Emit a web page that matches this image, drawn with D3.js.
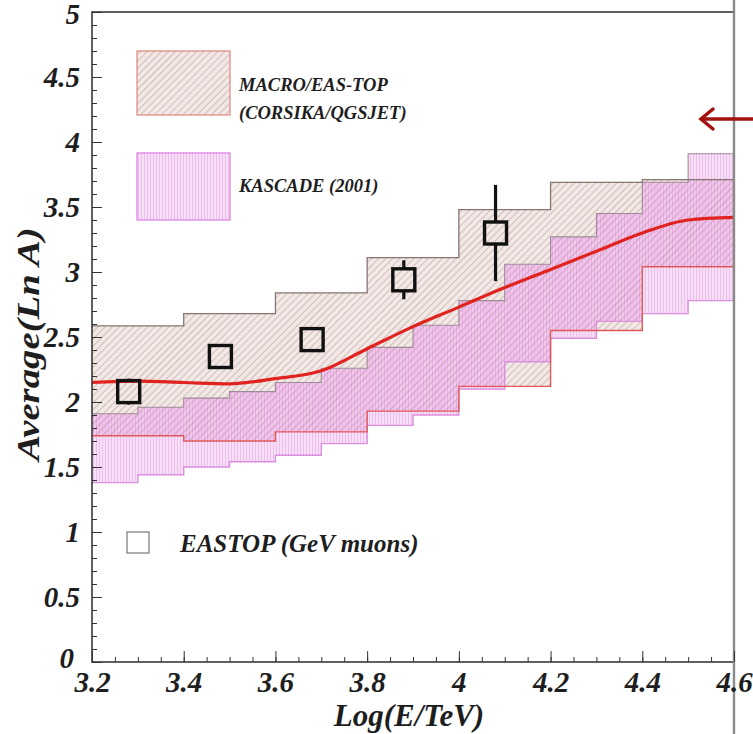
<!DOCTYPE html>
<html><head><meta charset="utf-8">
<script src="https://cdn.jsdelivr.net/npm/d3@7"></script>
<style>
html,body{margin:0;padding:0;background:#fff;}
svg{display:block;}
.lbl{font-family:"Liberation Serif","Times New Roman",serif;font-weight:bold;font-style:italic;fill:#1e1e1e;}
</style></head>
<body>
<script>
// ---------- data ----------
const xTicks = [3.2,3.4,3.6,3.8,4.0,4.2,4.4,4.6];
const xTickLabels = ["3.2","3.4","3.6","3.8","4","4.2","4.4","4.6"];
const yTicks = [0,0.5,1,1.5,2,2.5,3,3.5,4,4.5,5];
const yTickLabels = ["0","0.5","1","1.5","2","2.5","3","3.5","4","4.5","5"];

// MACRO/EAS-TOP band (0.2 wide bins)
const macroEdges = [3.2,3.4,3.6,3.8,4.0,4.2,4.4,4.6];
const macroUpper = [2.585,2.68,2.84,3.11,3.48,3.69,3.71];
const macroLower = [1.74,1.70,1.77,1.93,2.12,2.55,3.04];

// KASCADE (2001) band (0.1 wide bins)
const kascEdges = [3.2,3.3,3.4,3.5,3.6,3.7,3.8,3.9,4.0,4.1,4.2,4.3,4.4,4.5,4.6];
const kascUpper = [1.91,1.96,2.03,2.08,2.15,2.26,2.42,2.59,2.78,3.06,3.27,3.45,3.69,3.91];
const kascLower = [1.38,1.44,1.50,1.54,1.59,1.68,1.82,1.90,2.10,2.31,2.49,2.62,2.68,2.78];

// red model curve
const curveX = [3.2,3.3,3.4,3.5,3.6,3.7,3.8,3.9,4.0,4.1,4.2,4.3,4.4,4.5,4.6];
const curveY = [2.15,2.16,2.15,2.14,2.18,2.24,2.41,2.58,2.73,2.88,3.02,3.16,3.30,3.40,3.42];

// EASTOP (GeV muons) points
const eastopX = [3.28,3.48,3.68,3.88,4.08];
const eastopY = [2.08,2.35,2.48,2.94,3.30];
const eastopErr = [0.10,0.0,0.0,0.15,0.37];

// ---------- setup ----------
const W = 753, H = 734;
const svg = d3.select("body").append("svg").attr("width",W).attr("height",H);
const x = d3.scaleLinear().domain([3.2,4.6]).range([92,734]);
const y = d3.scaleLinear().domain([0,5]).range([662,12]);

const defs = svg.append("defs");
const pd = defs.append("pattern").attr("id","diag").attr("patternUnits","userSpaceOnUse")
  .attr("width",5).attr("height",5).attr("patternTransform","rotate(45)");
pd.append("line").attr("x1",0).attr("y1",0).attr("x2",0).attr("y2",5)
  .attr("stroke","#a8877c").attr("stroke-width",1.2).attr("stroke-opacity",0.75);
const pv = defs.append("pattern").attr("id","vert").attr("patternUnits","userSpaceOnUse")
  .attr("width",3).attr("height",3);
pv.append("rect").attr("width",3).attr("height",3).attr("fill","#f7e0f7");
pv.append("line").attr("x1",0.5).attr("y1",0).attr("x2",0.5).attr("y2",3)
  .attr("stroke","#ebbaeb").attr("stroke-width",0.9);

function stepData(edges, lo, hi){
  return edges.map((e,i)=>({x:e, lo: lo[Math.min(i,lo.length-1)], hi: hi[Math.min(i,hi.length-1)]}));
}
const macro = stepData(macroEdges, macroLower, macroUpper);
const kasc = stepData(kascEdges, kascLower, kascUpper);

const area = d3.area().x(d=>x(d.x)).y0(d=>y(d.lo)).y1(d=>y(d.hi)).curve(d3.curveStepAfter);
const lineHi = d3.line().x(d=>x(d.x)).y(d=>y(d.hi)).curve(d3.curveStepAfter);
const lineLo = d3.line().x(d=>x(d.x)).y(d=>y(d.lo)).curve(d3.curveStepAfter);

defs.append("clipPath").attr("id","kclip").append("path").attr("d", area(kasc));

const g = svg.append("g");
g.append("path").attr("d",area(macro)).attr("fill","#f2e9e6");
g.append("path").attr("d",area(kasc)).attr("fill","url(#vert)");
g.append("path").attr("d",area(macro)).attr("fill","#e486d6").attr("fill-opacity",0.27)
  .attr("clip-path","url(#kclip)");
g.append("path").attr("d",area(macro)).attr("fill","url(#diag)");
g.append("path").attr("d",lineLo(kasc)).attr("fill","none").attr("stroke","#dc8fde").attr("stroke-width",1.4);
g.append("path").attr("d",lineHi(kasc)).attr("fill","none").attr("stroke","#a08a98").attr("stroke-width",1.1);
g.append("path").attr("d",lineHi(macro)).attr("fill","none").attr("stroke","#857573").attr("stroke-width",1.3);
g.append("path").attr("d",lineLo(macro)).attr("fill","none").attr("stroke","#e2585a").attr("stroke-width",1.4);

// red curve
const cdata = curveX.map((v,i)=>[v,curveY[i]]);
g.append("path").attr("d", d3.line().x(d=>x(d[0])).y(d=>y(d[1])).curve(d3.curveMonotoneX)(cdata))
  .attr("fill","none").attr("stroke","#e0231f").attr("stroke-width",3.2);

// EASTOP points
const pts = eastopX.map((v,i)=>({x:v,y:eastopY[i],e:eastopErr[i]}));
const half = 11;
pts.forEach(p=>{
  if(p.e>0){
    g.append("line").attr("x1",x(p.x)).attr("x2",x(p.x)).attr("y1",y(p.y+p.e)).attr("y2",y(p.y)-half)
      .attr("stroke","#111").attr("stroke-width",3.2);
    g.append("line").attr("x1",x(p.x)).attr("x2",x(p.x)).attr("y1",y(p.y)+half).attr("y2",y(p.y-p.e))
      .attr("stroke","#111").attr("stroke-width",3.2);
  }
  g.append("rect").attr("x",x(p.x)-half).attr("y",y(p.y)-half).attr("width",2*half).attr("height",2*half)
    .attr("fill","none").attr("stroke","#111").attr("stroke-width",3.4);
});

// frame
svg.append("rect").attr("x",92).attr("y",12).attr("width",734-92).attr("height",662-12)
  .attr("fill","none").attr("stroke","#3a3a3a").attr("stroke-width",1.6);
svg.append("line").attr("x1",734).attr("x2",734).attr("y1",0).attr("y2",734)
  .attr("stroke","#8a8a8a").attr("stroke-width",2.4);

// axes ticks
const yMinor = d3.range(0,5.001,0.1);
const xMinor = d3.range(3.2,4.6001,0.05);
svg.append("g").attr("transform","translate(92,0)")
  .call(d3.axisLeft(y).tickValues(yMinor).tickSize(-5).tickFormat(""))
  .call(a=>a.select(".domain").remove()).selectAll("line").attr("stroke","#333");
svg.append("g").attr("transform","translate(92,0)")
  .call(d3.axisLeft(y).tickValues(yTicks).tickSize(-10).tickPadding(12)
    .tickFormat((d,i)=>yTickLabels[i]))
  .call(a=>a.select(".domain").remove())
  .call(a=>a.selectAll("line").attr("stroke","#333"))
  .call(a=>a.selectAll("text").attr("class","lbl").attr("font-size",29).attr("fill","#1e1e1e"))
  .call(a=>a.selectAll(".tick").filter(d=>d===0).select("text").attr("dx",-6).attr("dy","0.2em"))
  .call(a=>a.selectAll(".tick").filter(d=>d===5).select("text").attr("dy","0.4em"));
svg.append("g").attr("transform","translate(0,662)")
  .call(d3.axisBottom(x).tickValues(xMinor).tickSize(-5).tickFormat(""))
  .call(a=>a.select(".domain").remove()).selectAll("line").attr("stroke","#333");
svg.append("g").attr("transform","translate(0,662)")
  .call(d3.axisBottom(x).tickValues(xTicks).tickSize(-11).tickPadding(9)
    .tickFormat((d,i)=>xTickLabels[i]))
  .call(a=>a.select(".domain").remove())
  .call(a=>a.selectAll("line").attr("stroke","#333"))
  .call(a=>a.selectAll("text").attr("class","lbl").attr("font-size",29).attr("fill","#1e1e1e"));

// axis titles
svg.append("text").attr("class","lbl").attr("x",409).attr("y",726).attr("text-anchor","middle")
  .attr("font-size",31).text("Log(E/TeV)");
svg.append("text").attr("class","lbl").attr("transform","translate(39,344) rotate(-90) scale(1.25,1)")
  .attr("text-anchor","middle").attr("font-size",31).text("Average(Ln A)");

// legend
svg.append("rect").attr("x",137).attr("y",51).attr("width",93).attr("height",64).attr("fill","#f2e9e6");
svg.append("rect").attr("x",137).attr("y",51).attr("width",93).attr("height",64).attr("fill","url(#diag)")
  .attr("stroke","#e0867a").attr("stroke-width",1.2);
svg.append("rect").attr("x",137).attr("y",153).attr("width",93).attr("height",67).attr("fill","url(#vert)")
  .attr("stroke","#e08ce6").attr("stroke-width",1.4);
svg.append("text").attr("class","lbl").attr("x",239).attr("y",91).attr("font-size",18.5).text("MACRO/EAS-TOP");
svg.append("text").attr("class","lbl").attr("x",239).attr("y",119).attr("font-size",18.5).text("(CORSIKA/QGSJET)");
svg.append("text").attr("class","lbl").attr("x",239).attr("y",192).attr("font-size",18.5).text("KASCADE (2001)");
svg.append("rect").attr("x",127).attr("y",532).attr("width",22).attr("height",21)
  .attr("fill","none").attr("stroke","#777").attr("stroke-width",1.2);
svg.append("text").attr("class","lbl").attr("x",180).attr("y",552).attr("font-size",25).text("EASTOP (GeV muons)");

// arrow
svg.append("line").attr("x1",753).attr("x2",701).attr("y1",119).attr("y2",119)
  .attr("stroke","#a3120f").attr("stroke-width",3.5);
svg.append("path").attr("d","M713,109 L701,119 L713,129").attr("fill","none")
  .attr("stroke","#a3120f").attr("stroke-width",3.5).attr("stroke-linecap","round");
</script>
</body></html>
